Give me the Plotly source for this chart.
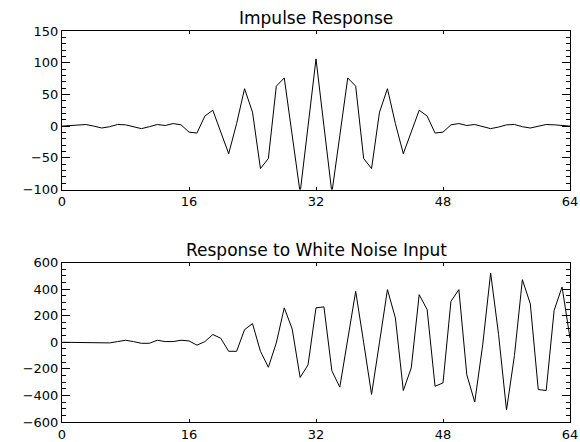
import plotly.graph_objects as go

n = list(range(65))
impulse = [0, 0.5, 2, 2.5, 0, -3, -1, 2.5, 2, -1.5, -4, -1, 2.5, 1, 4, 2,
           -9.5, -11, 16, 25, -9, -43.5, 4, 59, 22, -67, -51, 63, 76, -15, -105, 0,
           106, 0, -105, -15, 76, 63, -51, -67, 22, 59, 4, -43.5, -9, 25, 16, -11,
           -9.5, 2, 4, 1, 2.5, -1, -4, -1.5, 2, 2.5, -1, -3, 0, 2.5, 2, 0.5, 0]
noise_resp = [0, 0, 0, 0, 0, 0, -5, 5, 15, 5, -8, -8, 15, 5, 5, 15,
              10, -22, 5, 58, 30, -68, -68, 95, 140, -68, -188, -5, 259, 100, -265, -170,
              259, 266, -215, -338, 20, 383, 0, -393, 0, 396, 183, -363, -193, 358, 246, -331,
              -306, 308, 396, -245, -450, -20, 521, 60, -510, -100, 471, 289, -356, -363, 240, 416, 30]
xticks = [0, 16, 32, 48, 64]
titles = ["Impulse Response", "Response to White Noise Input"]

W, H = 580, 442
ML, MR, MT, MB = 62, 10, 31, 20
PH = H - MT - MB

def fy(px):
    return (H - MB - px) / PH

fig = go.Figure()
fig.add_trace(go.Scatter(x=n, y=impulse, mode="lines", line=dict(color="black", width=1),
                         xaxis="x", yaxis="y", showlegend=False))
fig.add_trace(go.Scatter(x=n, y=noise_resp, mode="lines", line=dict(color="black", width=1),
                         xaxis="x2", yaxis="y2", showlegend=False))
# invisible traces to activate minor-tick axes (left and right sides)
for ya, xa in (("y3", "x"), ("y5", "x"), ("y4", "x2"), ("y6", "x2")):
    fig.add_trace(go.Scatter(x=[0], y=[0], mode="markers", marker=dict(opacity=0), xaxis=xa, yaxis=ya,
                             showlegend=False, hoverinfo="skip"))

font = dict(family="DejaVu Sans", size=13, color="black")
xcommon = dict(range=[0, 64], tickvals=xticks, ticks="inside", ticklen=3, tickcolor="black",
               showline=True, linecolor="black", linewidth=1, mirror="ticks",
               showgrid=False, zeroline=False, tickfont=font, automargin=False)
ycommon = dict(ticks="inside", ticklen=8, tickcolor="black", tickwidth=1, showline=True,
               linecolor="black", linewidth=1, mirror="ticks", showgrid=False, zeroline=False,
               tickfont=font, automargin=False)
yminor = dict(ticks="inside", ticklen=4, tickcolor="black", tickwidth=1, showline=False,
              showgrid=False, zeroline=False, showticklabels=False, automargin=False)

top_dom = [fy(189.5), 1]
bot_dom = [0, fy(262.5)]

fig.update_layout(
    width=W, height=H,
    margin=dict(l=ML, r=MR, t=MT, b=MB, autoexpand=False),
    paper_bgcolor="white", plot_bgcolor="white",
    xaxis=dict(domain=[0, 1], anchor="y", **xcommon),
    yaxis=dict(domain=top_dom, anchor="x", range=[-100, 150], dtick=50, **ycommon),
    yaxis3=dict(domain=top_dom, anchor="x", overlaying="y", side="left", range=[-100, 150],
                dtick=10, **yminor),
    yaxis5=dict(domain=top_dom, anchor="x", overlaying="y", side="right", range=[-100, 150],
                dtick=10, **yminor),
    xaxis2=dict(domain=[0, 1], anchor="y2", **xcommon),
    yaxis2=dict(domain=bot_dom, anchor="x2", range=[-600, 600], dtick=200, **ycommon),
    yaxis4=dict(domain=bot_dom, anchor="x2", overlaying="y2", side="left", range=[-600, 600],
                dtick=50, **yminor),
    yaxis6=dict(domain=bot_dom, anchor="x2", overlaying="y2", side="right", range=[-600, 600],
                dtick=50, **yminor),
    annotations=[
        dict(text=titles[0], x=0.5, y=fy(17.5), xref="paper", yref="paper", showarrow=False,
             xanchor="center", yanchor="middle", font=dict(family="DejaVu Sans", size=17, color="black")),
        dict(text=titles[1], x=0.5, y=fy(250), xref="paper", yref="paper", showarrow=False,
             xanchor="center", yanchor="middle", font=dict(family="DejaVu Sans", size=17, color="black")),
    ],
)

fig.write_html("out.html", config={"displayModeBar": False},
               post_script="document.body.style.margin='0';document.body.style.padding='0';"
                           "document.body.style.overflow='hidden';")
